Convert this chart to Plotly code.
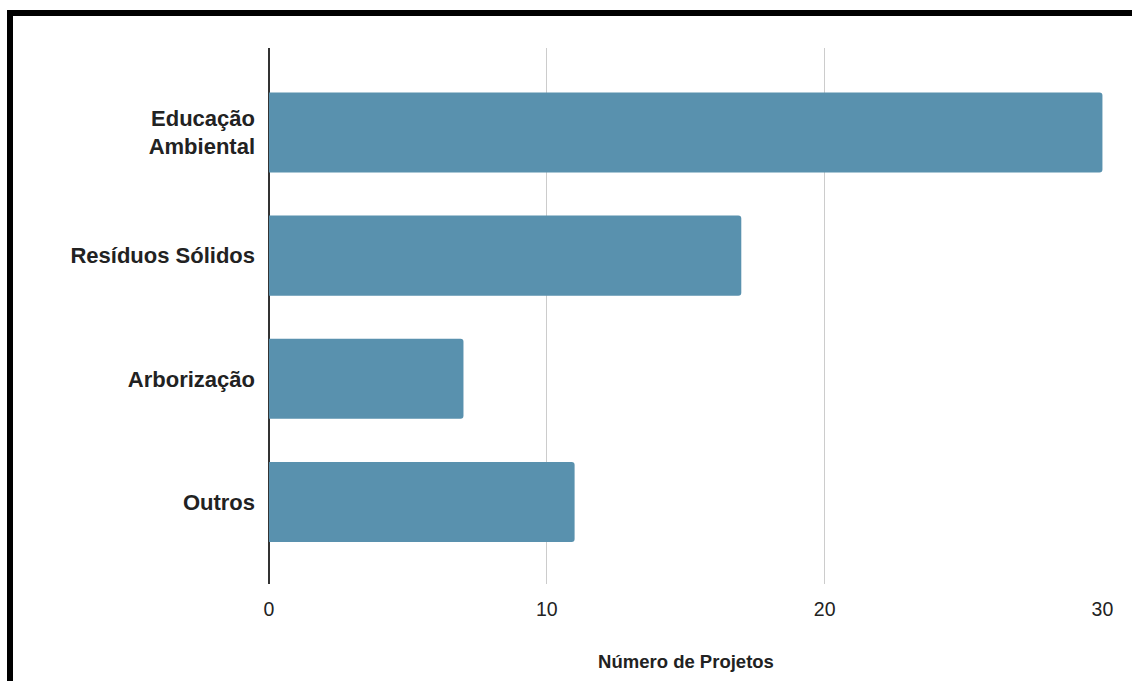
import plotly.graph_objects as go

categories = ["Educação<br>Ambiental", "Resíduos Sólidos", "Arborização", "Outros"]
values = [30, 17, 7, 11]
x_ticks = [0, 10, 20, 30]
x_title = "Número de Projetos"

# plot bottom-to-top order
cats_plot = categories[::-1]
vals_plot = values[::-1]

fig = go.Figure()
fig.add_trace(go.Bar(
    x=vals_plot,
    y=list(range(len(cats_plot))),
    orientation="h",
    width=0.65,
    marker=dict(color="#5991ae", line=dict(width=0), cornerradius=3),
    hoverinfo="x+y",
))

fig.update_layout(
    width=1132,
    height=681,
    margin=dict(l=269, r=29, t=48, b=97),
    paper_bgcolor="white",
    plot_bgcolor="white",
    showlegend=False,
    bargap=0.35,
    font=dict(family="Arial"),
    xaxis=dict(
        range=[0, 30.02],
        tickvals=x_ticks,
        ticktext=[str(v) for v in x_ticks],
        showgrid=True,
        gridcolor="#cccccc",
        gridwidth=1,
        zeroline=True,
        zerolinecolor="#333333",
        zerolinewidth=1.5,
        showline=False,
        ticks="",
        ticklabelstandoff=11,
        tickfont=dict(family="Arial", size=19.5, color="#222222"),
        title=dict(
            text="<b>" + x_title + "</b>",
            font=dict(family="Arial", size=18.5, color="#222222"),
            standoff=36,
        ),
    ),
    yaxis=dict(
        range=[-0.666, 3.686],
        tickvals=list(range(len(cats_plot))),
        ticktext=["<b>" + c + "</b>" for c in cats_plot],
        showgrid=False,
        zeroline=False,
        showline=False,
        ticks="",
        ticklabelstandoff=13,
        tickfont=dict(family="Arial", size=22, color="#222222"),
    ),
    shapes=[
        dict(type="rect", xref="paper", yref="paper",
             x0=(10 - 269) / 834, x1=1.2, y0=-0.4, y1=(584 - 13) / 536,
             line=dict(color="black", width=6), fillcolor="rgba(0,0,0,0)", layer="above"),
    ],
)

fig.write_html("out.html")
